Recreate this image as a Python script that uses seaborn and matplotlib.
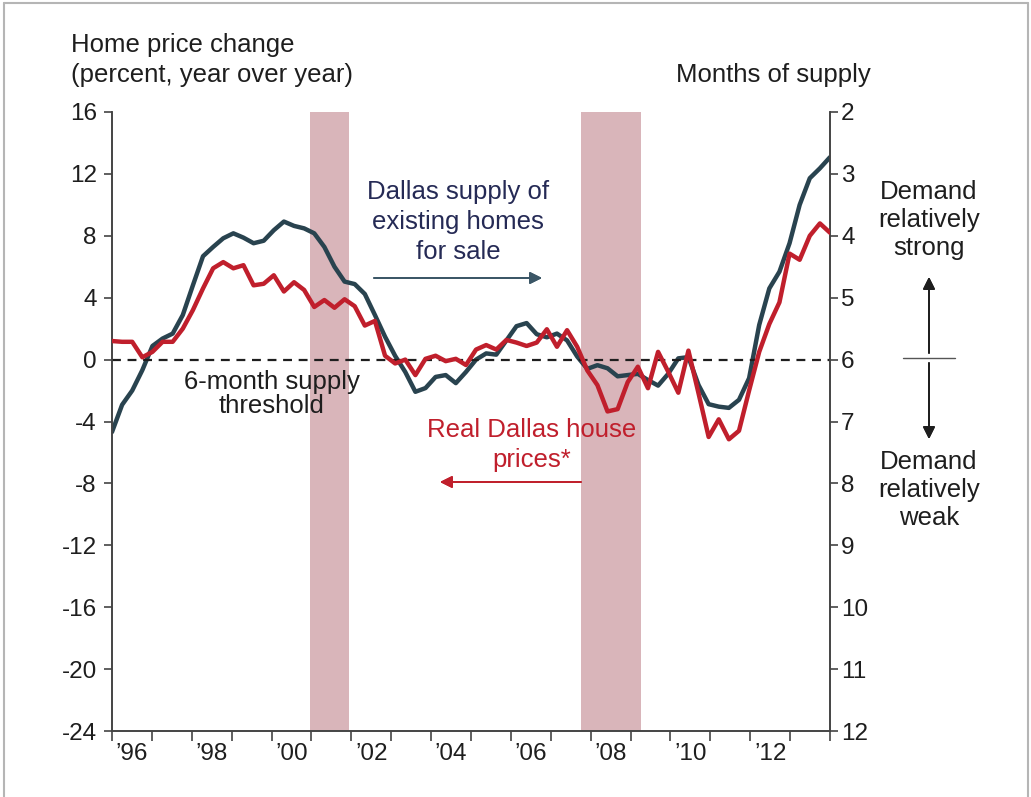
import numpy as np
import pandas as pd
import matplotlib
matplotlib.use("Agg")
import matplotlib.pyplot as plt
import seaborn as sns

# ------------------ Data ------------------
quarters = pd.period_range("1996Q1", "2013Q4", freq="Q").astype(str)

# Real Dallas house prices, percent change year over year (left axis)
price_change = [
    1.2, 1.15, 1.15, 0.15, 0.5, 1.15, 1.15, 2.0, 3.2, 4.6,
    5.9, 6.3, 5.9, 6.1, 4.8, 4.9, 5.45, 4.4, 5.0, 4.5,
    3.4, 3.85, 3.35, 3.9, 3.45, 2.2, 2.5, 0.25, -0.25, 0.0,
    -1.0, 0.05, 0.25, -0.1, 0.05, -0.35, 0.65, 0.94, 0.65, 1.27,
    1.1, 0.88, 1.1, 1.96, 0.83, 1.9, 0.83, -0.7, -1.65, -3.35,
    -3.2, -1.45, -0.46, -1.85, 0.5, -0.78, -2.14, 0.58, -2.18, -5.0,
    -3.86, -5.15, -4.6, -2.0, 0.5, 2.3, 3.7, 6.85, 6.45, 8.0,
    8.8, 8.2,
]

# Dallas months of supply of existing homes for sale (right axis, inverted)
months_supply = [
    7.17, 6.73, 6.5, 6.17, 5.78, 5.66, 5.58, 5.28, 4.8, 4.33,
    4.18, 4.04, 3.96, 4.03, 4.12, 4.08, 3.91, 3.77, 3.84, 3.88,
    3.96, 4.18, 4.5, 4.74, 4.78, 4.94, 5.28, 5.63, 5.94, 6.2,
    6.52, 6.46, 6.28, 6.25, 6.38, 6.2, 6.0, 5.9, 5.92, 5.69,
    5.46, 5.41, 5.59, 5.64, 5.58, 5.69, 5.95, 6.15, 6.09, 6.14,
    6.27, 6.25, 6.23, 6.33, 6.42, 6.23, 5.98, 5.96, 6.41, 6.72,
    6.76, 6.78, 6.65, 6.3, 5.44, 4.85, 4.58, 4.12, 3.5, 3.07,
    2.91, 2.73,
]

recessions = [(2000.97, 2001.95), (2007.75, 2009.25)]
year_ticks = list(range(1996, 2015))
year_labels = ["\u201996", "\u201998", "\u201900", "\u201902", "\u201904",
               "\u201906", "\u201908", "\u201910", "\u201912"]
left_ticks = [-24, -20, -16, -12, -8, -4, 0, 4, 8, 12, 16]
right_ticks = [2, 3, 4, 5, 6, 7, 8, 9, 10, 11, 12]

# quarters drawn evenly from the left axis to the right axis
df = pd.DataFrame({
    "quarter": quarters,
    "x": np.linspace(1996, 2014, len(quarters)),
    "price": price_change,
    "supply": months_supply,
})

# ------------------ Style ------------------
sns.set_style("ticks")
plt.rcParams["font.family"] = ["Liberation Sans", "DejaVu Sans"]

RED = "#c01f2c"
SLATE = "#29434f"
NAVY = "#252a55"
PINK = "#d9b5ba"
INK = "#1e1e1e"
FS = 18.5

W, H = 1031, 797
fig = plt.figure(figsize=(W / 100, H / 100), dpi=100)
ax = fig.add_axes([112 / W, 1 - 731 / H, (830 - 112) / W, (731 - 112) / H])
ax2 = ax.twinx()

# recession shading and supply line on the back axes
for a, b in recessions:
    ax2.axvspan(a, b, color=PINK, lw=0, zorder=0)
sns.lineplot(data=df, x="x", y="supply", ax=ax2, color=SLATE, lw=3.2, zorder=2)

# price line on the front axes
ax.set_zorder(ax2.get_zorder() + 1)
ax.patch.set_visible(False)
ax.axhline(0, color=INK, lw=1.6, ls=(0, (4, 3)), zorder=1)
sns.lineplot(data=df, x="x", y="price", ax=ax, color=RED, lw=3.2, zorder=3)

# ------------------ Axes ------------------
ax.set_xlim(1996, 2014)
ax.set_ylim(-24, 16)
ax2.set_ylim(12, 2)

ax.set_yticks(left_ticks)
ax.set_yticklabels([str(t) for t in left_ticks])
ax2.set_yticks(right_ticks)
ax2.set_yticklabels([str(t) for t in right_ticks])

ax.set_xticks(year_ticks)
ax.set_xticklabels([])
ax.set_xticks([y + 0.5 for y in range(1996, 2013, 2)], minor=True)
ax.set_xticklabels(year_labels, minor=True)
ax.tick_params(axis="x", which="major", length=7, width=1.2, color="#444")
ax.tick_params(axis="x", which="minor", length=0, pad=9, labelsize=17.5, labelcolor=INK)
ax.tick_params(axis="y", length=6, width=1.2, color="#444", pad=5, labelsize=17.5, labelcolor=INK)
ax2.tick_params(axis="y", length=6, width=1.2, color="#444", pad=2, labelsize=17.5, labelcolor=INK)

for a in (ax, ax2):
    a.set_xlabel("")
    a.set_ylabel("")
    a.spines["top"].set_visible(False)
    for s in ("left", "right", "bottom"):
        a.spines[s].set_color("#444")
        a.spines[s].set_linewidth(1.2)

# ------------------ Text and arrows ------------------
def fx(px):
    return px / W

def fy(py):
    return 1 - py / H

fig.text(fx(71), fy(60), "Home price change\n(percent, year over year)", fontsize=FS,
         color=INK, ha="left", va="center", linespacing=1.28)
fig.text(fx(871), fy(75), "Months of supply", fontsize=FS, color=INK, ha="right", va="center")

fig.text(fx(458), fy(222), "Dallas supply of\nexisting homes\nfor sale", fontsize=FS,
         color=NAVY, ha="center", va="center", linespacing=1.3)
fig.text(fx(272), fy(394), "6-month supply\nthreshold", fontsize=FS,
         color=INK, ha="center", va="center", linespacing=1.03)
fig.text(fx(532), fy(445), "Real Dallas house\nprices*", fontsize=FS,
         color=RED, ha="center", va="center", linespacing=1.28)
fig.text(fx(929), fy(220), "Demand\nrelatively\nstrong", fontsize=FS,
         color=INK, ha="center", va="center", linespacing=1.2)
fig.text(fx(929), fy(490), "Demand\nrelatively\nweak", fontsize=FS,
         color=INK, ha="center", va="center", linespacing=1.2)

arrow = dict(arrowstyle="-|>", mutation_scale=18, shrinkA=0, shrinkB=0)
fig.add_artist(plt.annotate("", xy=(fx(542), fy(278)), xytext=(fx(374), fy(278)),
                            xycoords="figure fraction",
                            arrowprops=dict(arrow, color="#3b5666", lw=1.3)))
fig.add_artist(plt.annotate("", xy=(fx(440), fy(482)), xytext=(fx(581), fy(482)),
                            xycoords="figure fraction",
                            arrowprops=dict(arrow, color=RED, lw=1.3)))
fig.add_artist(plt.annotate("", xy=(fx(929), fy(277)), xytext=(fx(929), fy(353)),
                            xycoords="figure fraction",
                            arrowprops=dict(arrow, color=INK, lw=1.3)))
fig.add_artist(plt.annotate("", xy=(fx(929), fy(439)), xytext=(fx(929), fy(363)),
                            xycoords="figure fraction",
                            arrowprops=dict(arrow, color=INK, lw=1.3)))
fig.add_artist(plt.Line2D([fx(903), fx(955)], [fy(358), fy(358)], color="#555", lw=1))

# thin frame round the figure (top, left and right edges)
frame = dict(color="#b5b5b5", lw=1.5)
fig.add_artist(plt.Line2D([fx(4), fx(1028)], [fy(3), fy(3)], **frame))
fig.add_artist(plt.Line2D([fx(4), fx(4)], [fy(3), fy(797)], **frame))
fig.add_artist(plt.Line2D([fx(1028), fx(1028)], [fy(3), fy(797)], **frame))

fig.savefig("out.png", dpi=100)
